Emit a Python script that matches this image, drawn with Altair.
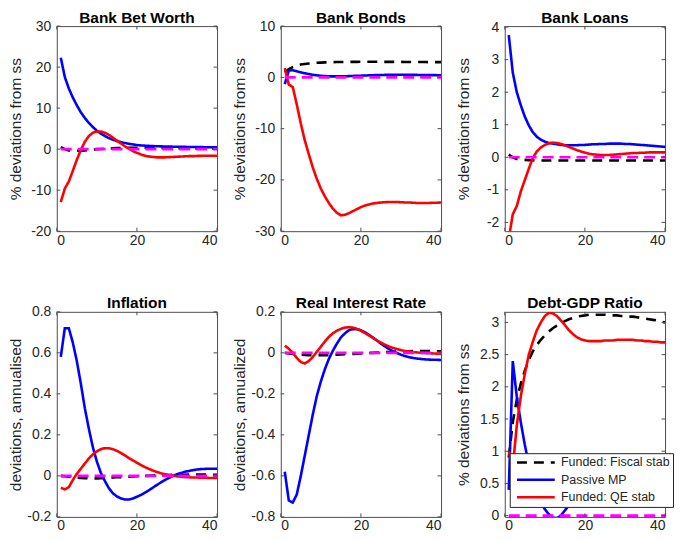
import altair as alt
import pandas as pd

T = list(range(1, 41))
SERIES = ["Funded: Fiscal stab", "Passive MP", "Funded: QE stab"]
COLORS = ["#000000", "#0000ff", "#ff0000"]
DASHES = [[10, 7], [1, 0], [1, 0]]
XTICKS = [0, 20, 40]
ZERO = [0.0] * 40

# Panel 1: Bank Bet Worth
nw_fiscal = [0.5, 0.0, -0.3, -0.4, -0.4, -0.35, -0.3, -0.2, -0.1, 0.0, 0.05, 0.1, 0.15, 0.2, 0.25, 0.3, 0.3, 0.35, 0.35, 0.35,
             0.35, 0.35, 0.3, 0.3, 0.3, 0.3, 0.25, 0.25, 0.25, 0.2, 0.2, 0.2, 0.2, 0.15, 0.15, 0.15, 0.15, 0.1, 0.1, 0.1]
nw_passive = [22.3, 17.6, 14.8, 12.6, 10.7, 9.0, 7.6, 6.4, 5.4, 4.5, 3.8, 3.2, 2.7, 2.3, 2.0, 1.7, 1.5, 1.3, 1.15, 1.0,
              0.9, 0.85, 0.8, 0.75, 0.7, 0.68, 0.65, 0.63, 0.6, 0.58, 0.56, 0.55, 0.53, 0.52, 0.5, 0.49, 0.48, 0.47, 0.46, 0.45]
nw_qe = [-12.9, -9.6, -7.9, -5.3, -2.6, -0.2, 1.8, 3.2, 4.0, 4.3, 4.3, 4.0, 3.5, 2.8, 2.1, 1.4, 0.7, 0.1, -0.5, -0.9,
         -1.3, -1.6, -1.8, -1.9, -2.0, -2.0, -2.0, -1.95, -1.9, -1.85, -1.8, -1.75, -1.7, -1.7, -1.65, -1.65, -1.6, -1.6, -1.6, -1.6]

# Panel 2: Bank Bonds
bd_fiscal = [1.0, 1.6, 2.0, 2.3, 2.5, 2.6, 2.7, 2.78, 2.84, 2.88, 2.92, 2.95, 2.97, 2.99, 3.0, 3.01, 3.02, 3.03, 3.03, 3.04,
             3.04, 3.04, 3.04, 3.04, 3.04, 3.03, 3.03, 3.03, 3.02, 3.02, 3.01, 3.01, 3.0, 3.0, 2.99, 2.99, 2.98, 2.98, 2.97, 2.97]
bd_passive = [-1.3, 1.3, 1.4, 1.2, 1.0, 0.8, 0.65, 0.5, 0.4, 0.3, 0.25, 0.2, 0.2, 0.2, 0.2, 0.22, 0.25, 0.28, 0.3, 0.33,
              0.36, 0.4, 0.42, 0.45, 0.47, 0.48, 0.5, 0.5, 0.5, 0.5, 0.5, 0.5, 0.49, 0.48, 0.47, 0.46, 0.45, 0.44, 0.43, 0.42]
bd_qe = [1.8, -1.4, -1.9, -5.3, -9.0, -12.3, -15.0, -17.6, -19.8, -21.7, -23.2, -24.5, -25.6, -26.4, -26.9, -26.8, -26.5, -26.1, -25.7, -25.3,
         -25.0, -24.8, -24.6, -24.5, -24.4, -24.35, -24.3, -24.3, -24.3, -24.35, -24.4, -24.4, -24.45, -24.5, -24.5, -24.5, -24.5, -24.45, -24.45, -24.4]

# Panel 3: Bank Loans
ln_fiscal = [0.08, 0.0, -0.05, -0.07, -0.08, -0.09, -0.09, -0.1, -0.1, -0.1, -0.1, -0.1, -0.1, -0.1, -0.1, -0.1, -0.1, -0.1, -0.1, -0.1,
             -0.1, -0.1, -0.1, -0.1, -0.1, -0.1, -0.1, -0.1, -0.1, -0.1, -0.1, -0.1, -0.1, -0.1, -0.1, -0.1, -0.1, -0.1, -0.1, -0.1]
ln_passive = [3.75, 2.6, 2.0, 1.6, 1.25, 0.98, 0.77, 0.63, 0.54, 0.48, 0.44, 0.42, 0.4, 0.38, 0.37, 0.37, 0.37, 0.37, 0.38, 0.38,
              0.39, 0.4, 0.4, 0.41, 0.41, 0.42, 0.42, 0.42, 0.42, 0.41, 0.41, 0.4, 0.39, 0.38, 0.37, 0.36, 0.35, 0.34, 0.33, 0.32]
ln_qe = [-2.5, -1.75, -1.5, -1.05, -0.7, -0.35, -0.02, 0.18, 0.3, 0.38, 0.43, 0.45, 0.44, 0.41, 0.37, 0.32, 0.27, 0.22, 0.18, 0.14,
         0.11, 0.09, 0.08, 0.07, 0.07, 0.07, 0.08, 0.09, 0.1, 0.11, 0.12, 0.13, 0.13, 0.14, 0.14, 0.15, 0.15, 0.15, 0.15, 0.15]

# Panel 4: Inflation
pi_fiscal = [0.0, -0.002, -0.004, -0.006, -0.008, -0.01, -0.011, -0.012, -0.012, -0.012, -0.011, -0.01, -0.009, -0.008, -0.007, -0.006, -0.005, -0.004, -0.003, -0.002,
             -0.001, 0.0, 0.001, 0.002, 0.003, 0.003, 0.004, 0.004, 0.005, 0.005, 0.005, 0.005, 0.006, 0.006, 0.006, 0.006, 0.006, 0.006, 0.005, 0.005]
pi_passive = [0.58, 0.72, 0.72, 0.65, 0.56, 0.45, 0.33, 0.23, 0.14, 0.07, 0.015, -0.025, -0.06, -0.085, -0.1, -0.11, -0.115, -0.115, -0.11, -0.102,
              -0.093, -0.082, -0.07, -0.057, -0.044, -0.032, -0.02, -0.01, 0.0, 0.008, 0.014, 0.02, 0.024, 0.028, 0.031, 0.033, 0.034, 0.035, 0.035, 0.035]
pi_qe = [-0.058, -0.066, -0.055, -0.02, 0.01, 0.035, 0.06, 0.085, 0.105, 0.12, 0.13, 0.135, 0.135, 0.13, 0.122, 0.112, 0.1, 0.087, 0.075, 0.064,
         0.053, 0.043, 0.034, 0.026, 0.019, 0.013, 0.008, 0.004, 0.001, -0.002, -0.004, -0.006, -0.007, -0.008, -0.008, -0.009, -0.009, -0.01, -0.01, -0.01]

# Panel 5: Real Interest Rate
rr_fiscal = [0.0, -0.003, -0.005, -0.007, -0.009, -0.01, -0.011, -0.012, -0.012, -0.012, -0.012, -0.011, -0.01, -0.009, -0.008, -0.007, -0.006, -0.005, -0.004, -0.003,
             -0.002, -0.001, 0.0, 0.001, 0.002, 0.003, 0.004, 0.005, 0.006, 0.007, 0.008, 0.008, 0.009, 0.009, 0.009, 0.009, 0.009, 0.008, 0.008, 0.007]
rr_passive = [-0.58, -0.72, -0.73, -0.69, -0.6, -0.5, -0.4, -0.3, -0.21, -0.14, -0.08, -0.03, 0.01, 0.045, 0.075, 0.095, 0.11, 0.116, 0.115, 0.11,
              0.1, 0.088, 0.074, 0.06, 0.045, 0.031, 0.019, 0.008, -0.001, -0.009, -0.016, -0.021, -0.025, -0.028, -0.03, -0.032, -0.033, -0.034, -0.034, -0.035]
rr_qe = [0.035, 0.02, 0.0, -0.025, -0.045, -0.052, -0.04, -0.02, 0.005, 0.03, 0.055, 0.078, 0.095, 0.108, 0.117, 0.123, 0.125, 0.123, 0.117, 0.108,
         0.097, 0.085, 0.073, 0.061, 0.05, 0.04, 0.031, 0.024, 0.018, 0.013, 0.009, 0.006, 0.004, 0.002, 0.0, -0.001, -0.002, -0.003, -0.004, -0.005]

# Panel 6: Debt-GDP Ratio
dg_fiscal = [0.9, 1.45, 1.8, 2.05, 2.25, 2.42, 2.55, 2.65, 2.73, 2.8, 2.86, 2.91, 2.95, 2.99, 3.02, 3.05, 3.07, 3.09, 3.1, 3.11,
             3.12, 3.12, 3.12, 3.12, 3.12, 3.11, 3.11, 3.11, 3.1, 3.1, 3.09, 3.09, 3.08, 3.07, 3.06, 3.05, 3.04, 3.03, 3.01, 3.0]
dg_passive = [0.4, 2.4, 1.85, 1.45, 1.1, 0.8, 0.55, 0.35, 0.2, 0.1, 0.02, -0.03, -0.04, 0.0, 0.08, 0.16, 0.24, 0.3, 0.35, 0.4,
              0.44, 0.47, 0.48, 0.48, 0.47, 0.46, 0.45, 0.44, 0.43, 0.43, 0.43, 0.43, 0.44, 0.44, 0.45, 0.45, 0.45, 0.45, 0.45, 0.45]
dg_qe = [1.0, 0.75, 1.4, 1.85, 2.2, 2.5, 2.7, 2.88, 3.0, 3.1, 3.15, 3.14, 3.1, 3.03, 2.96, 2.88, 2.82, 2.77, 2.74, 2.72,
         2.71, 2.71, 2.71, 2.71, 2.72, 2.72, 2.72, 2.73, 2.73, 2.73, 2.73, 2.73, 2.72, 2.72, 2.71, 2.71, 2.7, 2.7, 2.69, 2.69]

FONT = "Liberation Sans"
AX = "#262626"
BOX = "#4d4d4d"
W, H = 161, 206
TICK = 3.5


def panel(title, ytitle, ydomain, yticks, fiscal, passive, qe, legend=False, title_offset=-7):
    df = pd.DataFrame({
        "t": T * 3,
        "value": fiscal + passive + qe,
        "series": [s for s in SERIES for _ in T],
    })
    zdf = pd.DataFrame({"t": T, "value": ZERO})
    ytdf = pd.DataFrame({"value": yticks})
    xtdf = pd.DataFrame({"t": XTICKS})

    xscale = alt.Scale(domain=[0, 40], nice=False, zero=False)
    yscale = alt.Scale(domain=ydomain, nice=False, zero=False)
    xaxis = alt.Axis(values=XTICKS, title=None, labelExpr="'' + datum.value")
    yaxis = alt.Axis(values=yticks, title=ytitle, labelExpr="'' + datum.value")
    X = alt.X("t:Q", scale=xscale, axis=xaxis)
    Y = alt.Y("value:Q", scale=yscale, axis=yaxis)

    if legend:
        leg = alt.Legend(
            title=None, orient="none", legendX=5, legendY=142, direction="vertical",
            fillColor="white", strokeColor=AX, padding=3,
            symbolType="M-4,0L4,0", symbolSize=90, symbolStrokeWidth=2.5,
            symbolOffset=17, labelOffset=19, rowPadding=4.5,
            labelFont=FONT, labelFontSize=12.5, labelColor=AX,
        )
    else:
        leg = None
    color = alt.Color("series:N", scale=alt.Scale(domain=SERIES, range=COLORS), legend=leg)
    dash = alt.StrokeDash("series:N", scale=alt.Scale(domain=SERIES, range=DASHES), legend=leg)

    zero = alt.Chart(zdf).mark_line(color="#ff00ff", strokeWidth=2.6, strokeDash=[11, 6]).encode(x=X, y=Y)
    lines = []
    for s in SERIES:
        lines.append(
            alt.Chart(df).transform_filter(alt.datum.series == s)
            .mark_line(strokeWidth=2.6, clip=True)
            .encode(x=X, y=Y, color=color, strokeDash=dash)
        )
    tl = alt.Chart(ytdf).mark_rule(color=BOX, strokeWidth=1).encode(y=Y, x=alt.value(0), x2=alt.value(TICK))
    tr = alt.Chart(ytdf).mark_rule(color=BOX, strokeWidth=1).encode(y=Y, x=alt.value(W - TICK), x2=alt.value(W))
    tb = alt.Chart(xtdf).mark_rule(color=BOX, strokeWidth=1).encode(x=X, y=alt.value(H - TICK), y2=alt.value(H))
    tt = alt.Chart(xtdf).mark_rule(color=BOX, strokeWidth=1).encode(x=X, y=alt.value(0), y2=alt.value(TICK))

    return alt.layer(lines[0], lines[1], lines[2], zero, tl, tr, tb, tt).properties(
        width=W, height=H,
        title=alt.TitleParams(title, font=FONT, fontSize=15.5, fontWeight="bold", color="black",
                              offset=title_offset, frame="group"),
    )


pct = "% deviations from ss"
p1 = panel("Bank Bet Worth", pct, [-20, 30], [-20, -10, 0, 10, 20, 30], nw_fiscal, nw_passive, nw_qe)
p2 = panel("Bank Bonds", pct, [-30, 10], [-30, -20, -10, 0, 10], bd_fiscal, bd_passive, bd_qe)
p3 = panel("Bank Loans", pct, [-2.27, 4.03], [-2, -1, 0, 1, 2, 3, 4], ln_fiscal, ln_passive, ln_qe, title_offset=-6)
p4 = panel("Inflation", "deviations, annualised", [-0.2, 0.8], [-0.2, 0, 0.2, 0.4, 0.6, 0.8], pi_fiscal, pi_passive, pi_qe)
p5 = panel("Real Interest Rate", "deviations, annualized", [-0.8, 0.2], [-0.8, -0.6, -0.4, -0.2, 0, 0.2], rr_fiscal, rr_passive, rr_qe)
p6 = panel("Debt-GDP Ratio", pct, [-0.02, 3.165], [0, 0.5, 1, 1.5, 2, 2.5, 3], dg_fiscal, dg_passive, dg_qe,
           legend=True, title_offset=0)

chart = (
    alt.concat(p1, p2, p3, p4, p5, p6, columns=3, spacing={"row": 81, "column": 64}, bounds="flush")
    .resolve_scale(color="independent", strokeDash="independent")
    .properties(padding={"left": 0, "top": 0, "right": 0, "bottom": 0})
    .configure_view(stroke=BOX, strokeWidth=1)
    .configure_axis(
        labelFont=FONT, labelFontSize=14, labelColor=AX,
        titleFont=FONT, titleFontSize=15.5, titleFontWeight="normal", titleColor=AX,
        ticks=False, tickSize=0, domain=False, grid=False,
    )
    .configure_axisY(labelPadding=6, minExtent=31, maxExtent=31, titlePadding=2)
    .configure_axisX(labelPadding=2)
)

chart.save("out.html", embed_options={"renderer": "svg", "actions": False})
